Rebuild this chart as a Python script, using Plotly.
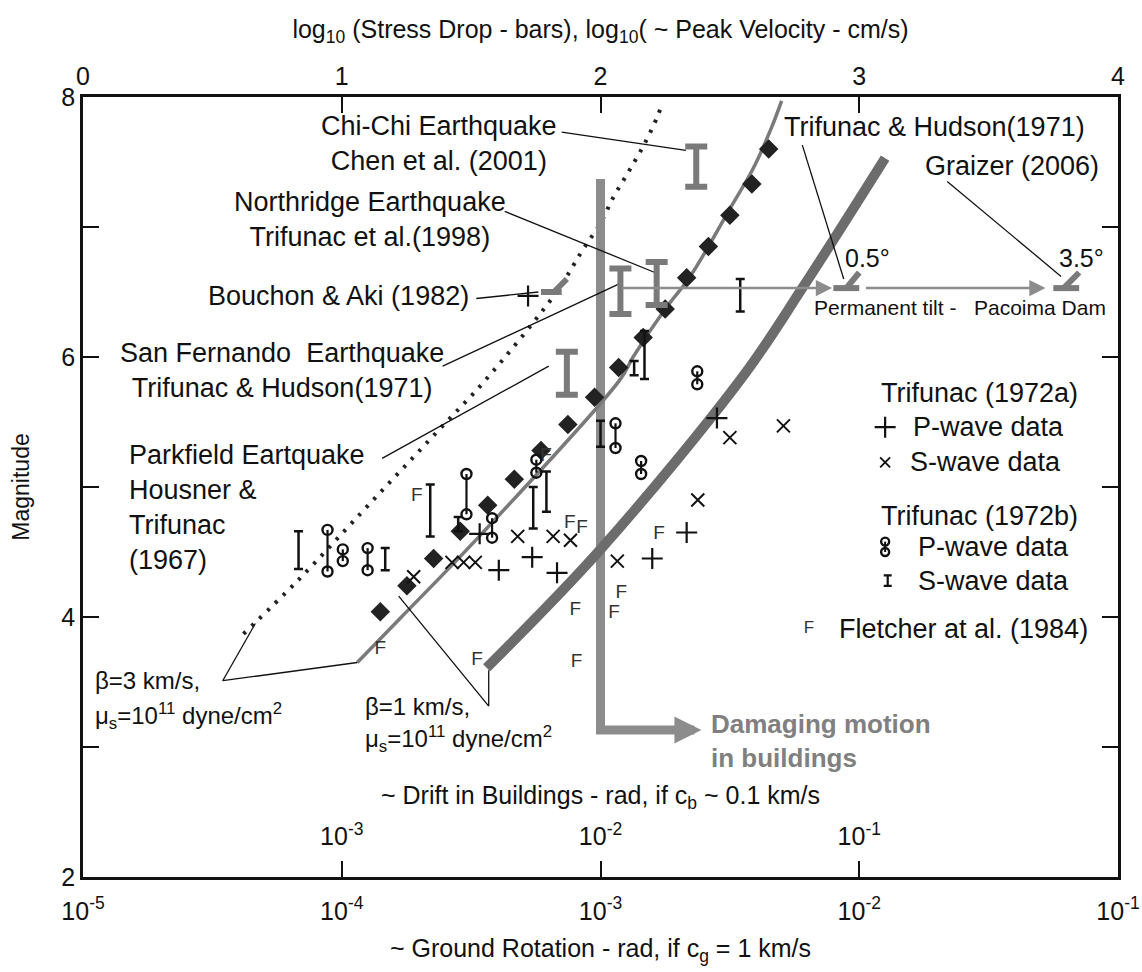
import plotly.graph_objects as go

# ---------------- data: x = log10(stress drop, bars) [top axis], y = magnitude ----------------
beta3_x = [0.62, 0.83, 1.07, 1.23, 1.39, 1.55, 1.83, 1.93, 2.00, 2.05, 2.11, 2.17, 2.22, 2.24]
beta3_y = [3.87, 4.28, 4.79, 5.13, 5.47, 5.81, 6.50, 6.82, 7.03, 7.23, 7.43, 7.64, 7.85, 7.96]

beta1_x = [1.06, 1.226, 1.536, 2.077, 2.126, 2.25, 2.34, 2.42, 2.50, 2.59, 2.66, 2.70]
beta1_y = [3.65, 3.99, 4.63, 5.83, 6.00, 6.37, 6.60, 6.86, 7.14, 7.45, 7.76, 7.97]

thick_x = [1.56, 2.00, 2.55, 2.78, 3.10]
thick_y = [3.61, 4.52, 5.85, 6.53, 7.53]

diamond_x = [1.149, 1.252, 1.355, 1.458, 1.564, 1.667, 1.77, 1.874, 1.977, 2.07, 2.165, 2.25, 2.333, 2.417, 2.50, 2.585, 2.65]
diamond_y = [4.04, 4.24, 4.45, 4.66, 4.86, 5.06, 5.28, 5.48, 5.69, 5.92, 6.15, 6.37, 6.61, 6.85, 7.09, 7.33, 7.60]

# Trifunac (1972a)
p72a_x = [1.533, 1.607, 1.736, 1.832, 2.20, 2.333, 2.45, 1.72]
p72a_y = [4.64, 4.36, 4.46, 4.34, 4.45, 4.65, 5.53, 6.47]
s72a_x = [1.278, 1.426, 1.471, 1.516, 1.68, 1.817, 1.884, 2.065, 2.376, 2.50, 2.707]
s72a_y = [4.31, 4.42, 4.42, 4.42, 4.62, 4.62, 4.59, 4.43, 4.90, 5.38, 5.47]

# Trifunac (1972b) P-wave pairs (x, lower M, upper M)
p72b_x = [0.945, 1.004, 1.10, 1.482, 1.581, 1.752, 2.058, 2.157, 2.374]
p72b_lo = [4.35, 4.43, 4.36, 4.79, 4.61, 5.11, 5.30, 5.10, 5.79]
p72b_hi = [4.67, 4.52, 4.53, 5.10, 4.76, 5.21, 5.49, 5.20, 5.89]
# Trifunac (1972b) S-wave ranges
s72b_x = [0.833, 1.168, 1.342, 1.45, 1.74, 1.791, 2.00, 2.13, 2.17, 2.54]
s72b_lo = [4.37, 4.36, 4.62, 4.66, 4.68, 4.81, 5.31, 5.86, 5.83, 6.35]
s72b_hi = [4.66, 4.53, 5.02, 4.77, 5.00, 5.12, 5.51, 5.97, 6.20, 6.60]

# Fletcher et al. (1984)
fl_x = [1.29, 1.881, 1.929, 1.79, 2.226, 1.903, 2.08, 2.052, 1.523, 1.907, 1.149]
fl_y = [4.93, 4.72, 4.68, 5.24, 4.64, 4.05, 4.18, 4.03, 3.67, 3.65, 3.75]

# earthquake ranges (gray I-bars): Parkfield, San Fernando, Northridge, Chi-Chi
eq_x = [1.87, 2.077, 2.217, 2.37]
eq_lo = [5.71, 6.33, 6.40, 7.31]
eq_hi = [6.04, 6.68, 6.73, 7.62]

# damaging-motion bracket
dmg_x = [2.0, 2.0, 2.33]
dmg_y = [7.37, 3.13, 3.13]
dmg_head = (2.39, 3.13)

# permanent tilt (Pacoima Dam) and Bouchon & Aki markers: horizontal + oblique stroke
tilt_level = 6.53
tilt_marks = [(2.90, 3.00, 2.95), (3.75, 3.85, 3.79)]
bouchon_mark = (1.77, 1.85, 1.82, 6.50)
tilt_arrows = [(2.077, 2.895), (3.02, 3.72)]

# leader lines (x list, y list)
leaders = [
    ([1.156, 1.80], [5.22, 5.93]),     # Parkfield
    ([1.39, 2.07], [5.93, 6.56]),      # San Fernando
    ([1.63, 2.21], [7.12, 6.65]),      # Northridge
    ([1.85, 2.33], [7.73, 7.59]),      # Chi-Chi
    ([1.52, 1.76], [6.45, 6.50]),      # Bouchon & Aki
    ([2.78, 2.94], [7.63, 6.60]),      # Trifunac & Hudson (tilt)
    ([3.34, 3.78], [7.35, 6.62]),      # Graizer
    ([0.54, 0.666], [3.51, 3.95]),     # beta=3 -> dotted
    ([0.54, 1.06], [3.51, 3.65]),      # beta=3 -> gray
    ([1.22, 1.568, 1.568], [4.16, 3.315, 3.59]),  # beta=1
]

rot_ticks = [1e-5, 1e-4, 1e-3, 1e-2, 1e-1]
rot_ticktext = ["10<sup>-5</sup>", "10<sup>-4</sup>", "10<sup>-3</sup>", "10<sup>-2</sup>", "10<sup>-1</sup>"]
drift_ticks = [1e-3, 1e-2, 1e-1]
drift_ticktext = ["10<sup>-3</sup>", "10<sup>-2</sup>", "10<sup>-1</sup>"]
stress_ticks = [0, 1, 2, 3, 4]
mag_ticks = [2, 3, 4, 5, 6, 7, 8]
mag_ticktext = ["2", "", "4", "", "6", "", "8"]

# ---------------- figure ----------------
SANS = "Liberation Sans, Arial, sans-serif"
NARROW = "Liberation Sans Narrow, Arial Narrow, Liberation Sans, sans-serif"
INK = "#111111"
GRAY = "#7a7a7a"
LIGHT = "#8c8c8c"

fig = go.Figure()
def add(tr):
    tr.update(xaxis="x2", yaxis="y", hoverinfo="skip", showlegend=False)
    fig.add_trace(tr)

# dotted beta=3 curve
add(go.Scatter(x=beta3_x, y=beta3_y, mode="lines",
               line=dict(color="#222", width=4, dash="3px,8px", shape="spline")))
# damaging motion bracket
add(go.Scatter(x=dmg_x, y=dmg_y, mode="lines", line=dict(color=LIGHT, width=9)))
# beta=1 gray curve
add(go.Scatter(x=beta1_x, y=beta1_y, mode="lines", line=dict(color=GRAY, width=3.5, shape="spline")))
# thick curve
add(go.Scatter(x=thick_x, y=thick_y, mode="lines", line=dict(color="#6c6c6c", width=10, shape="spline")))

# leader lines
lx, ly = [], []
for xs, ys in leaders:
    lx += xs + [None]
    ly += ys + [None]
add(go.Scatter(x=lx, y=ly, mode="lines", line=dict(color=INK, width=1.3)))

# tilt / Bouchon markers
mx, my = [], []
for a, b, c in tilt_marks:
    mx += [a, b, None, c, b, None]
    my += [tilt_level, tilt_level, None, tilt_level, tilt_level + 0.12, None]
a, b, c, lev = bouchon_mark
mx += [a, b, None, c, b + 0.02, None]
my += [lev, lev, None, lev, lev + 0.1, None]
add(go.Scatter(x=mx, y=my, mode="lines", line=dict(color=GRAY, width=6)))

# diamonds
add(go.Scatter(x=diamond_x, y=diamond_y, mode="markers",
               marker=dict(symbol="diamond", size=15, color="#222")))
# gray I-bars
add(go.Scatter(x=eq_x, y=[(l + h) / 2 for l, h in zip(eq_lo, eq_hi)], mode="markers",
               marker=dict(size=1, color="rgba(0,0,0,0)"),
               error_y=dict(type="data", array=[(h - l) / 2 for l, h in zip(eq_lo, eq_hi)],
                            symmetric=True, color=GRAY, thickness=6, width=11)))
# black S-wave I-bars (1972b)
add(go.Scatter(x=s72b_x, y=[(l + h) / 2 for l, h in zip(s72b_lo, s72b_hi)], mode="markers",
               marker=dict(size=1, color="rgba(0,0,0,0)"),
               error_y=dict(type="data", array=[(h - l) / 2 for l, h in zip(s72b_lo, s72b_hi)],
                            symmetric=True, color=INK, thickness=2.5, width=4.5)))
# P-wave pairs (1972b)
px, py = [], []
for x, l, h in zip(p72b_x, p72b_lo, p72b_hi):
    px += [x, x, None]
    py += [l, h, None]
add(go.Scatter(x=px, y=py, mode="lines+markers", line=dict(color=INK, width=2.2),
               marker=dict(symbol="circle-open", size=10, color=INK, line=dict(width=2.4))))
# 1972a
add(go.Scatter(x=p72a_x, y=p72a_y, mode="markers",
               marker=dict(symbol="cross-thin", size=15, line=dict(width=2.2, color=INK))))
add(go.Scatter(x=s72a_x, y=s72a_y, mode="markers",
               marker=dict(symbol="x-thin", size=13, line=dict(width=2, color=INK))))
# Fletcher
add(go.Scatter(x=fl_x, y=fl_y, mode="text", text=["F"] * len(fl_x),
               textfont=dict(family=SANS, size=19, color="#333")))

# legend symbols
leg_x = 3.10
add(go.Scatter(x=[leg_x], y=[5.46], mode="markers",
               marker=dict(symbol="cross-thin", size=15, line=dict(width=2.2, color=INK))))
add(go.Scatter(x=[leg_x], y=[5.19], mode="markers",
               marker=dict(symbol="x-thin", size=10, line=dict(width=1.8, color=INK))))
add(go.Scatter(x=[leg_x, leg_x], y=[4.50, 4.58], mode="lines+markers", line=dict(color=INK, width=2),
               marker=dict(symbol="circle-open", size=8, color=INK, line=dict(width=2.4))))
add(go.Scatter(x=[leg_x + 0.01], y=[4.28], mode="markers", marker=dict(size=1, color="rgba(0,0,0,0)"),
               error_y=dict(type="data", array=[0.04], symmetric=True, color=INK, thickness=2.2, width=4)))
add(go.Scatter(x=[2.806], y=[3.91], mode="text", text=["F"], textfont=dict(family=SANS, size=17, color="#333")))

# dummy traces to register base axes
fig.add_trace(go.Scatter(x=[1e-3], y=[None], xaxis="x", yaxis="y", showlegend=False, hoverinfo="skip"))
fig.add_trace(go.Scatter(x=[1e-2], y=[None], xaxis="x3", yaxis="y", showlegend=False, hoverinfo="skip"))

# ---------------- annotations ----------------
F27 = dict(family=SANS, size=27, color=INK)
texts = [
    ("Chi-Chi Earthquake<br>Chen et al. (2001)", 1.84, 7.64, "right", "center"),
    ("Northridge Earthquake<br>Trifunac et al.(1998)", 1.11, 7.06, "center", "center"),
    ("Bouchon & Aki (1982)", 1.50, 6.47, "right", "left"),
    ("San Fernando  Earthquake<br>Trifunac & Hudson(1971)", 0.77, 5.895, "center", "center"),
    ("Parkfield Eartquake<br>Housner &<br>Trifunac<br>(1967)", 0.169, 4.845, "left", "left"),
    ("Trifunac & Hudson(1971)", 3.29, 7.77, "center", "center"),
    ("Graizer (2006)", 3.59, 7.47, "center", "center"),
    ("Trifunac (1972a)", 3.077, 5.72, "left", "left"),
    ("P-wave data", 3.20, 5.46, "left", "left"),
    ("S-wave data", 3.19, 5.19, "left", "left"),
    ("Trifunac (1972b)", 3.077, 4.78, "left", "left"),
    ("P-wave data", 3.22, 4.54, "left", "left"),
    ("S-wave data", 3.22, 4.28, "left", "left"),
    ("Fletcher at al. (1984)", 2.913, 3.91, "left", "left"),
]
for t, x, y, xa, al in texts:
    fig.add_annotation(text=t, x=x, y=y, xref="x2", yref="y", xanchor=xa, yanchor="middle",
                       align=al, showarrow=False, font=F27)
for t, x in [("0.5°", 3.03), ("3.5°", 3.86)]:
    fig.add_annotation(text=t, x=x, y=6.76, xref="x2", yref="y", showarrow=False,
                       font=dict(family=SANS, size=25, color=INK))

small = [
    ("β=3 km/s,", 0.04, 3.51), ("μ<sub>s</sub>=10<sup>11</sup> dyne/cm<sup>2</sup>", 0.04, 3.24),
    ("β=1 km/s,", 1.083, 3.31), ("μ<sub>s</sub>=10<sup>11</sup> dyne/cm<sup>2</sup>", 1.083, 3.06),
]
for t, x, y in small:
    fig.add_annotation(text=t, x=x, y=y, xref="x2", yref="y", xanchor="left", yanchor="middle",
                       showarrow=False, font=dict(family=SANS, size=24, color=INK))
for t, x in [("Permanent tilt -", 3.10), ("Pacoima Dam", 3.70)]:
    fig.add_annotation(text=t, x=x, y=6.38, xref="x2", yref="y", showarrow=False,
                       font=dict(family=SANS, size=21, color=INK))
fig.add_annotation(text="<b>Damaging motion<br>in buildings</b>", x=2.42, y=3.05, xref="x2", yref="y",
                   xanchor="left", yanchor="middle", align="left", showarrow=False,
                   font=dict(family=SANS, size=26, color="#808080"))

# arrows
for x0, x1 in tilt_arrows:
    fig.add_annotation(x=x1, y=tilt_level, ax=x0, ay=tilt_level, xref="x2", yref="y",
                       axref="x2", ayref="y", text="", showarrow=True, arrowhead=2,
                       arrowsize=1.3, arrowwidth=2.5, arrowcolor=LIGHT)
fig.add_annotation(x=dmg_head[0], y=dmg_head[1], ax=dmg_x[-1] - 0.05, ay=dmg_head[1], xref="x2", yref="y",
                   axref="x2", ayref="y", text="", showarrow=True, arrowhead=2,
                   arrowsize=0.6, arrowwidth=9, arrowcolor=LIGHT)

# ---------------- layout ----------------
TICKF = dict(family=NARROW, size=25, color=INK)
TITLEF = dict(family=NARROW, size=25, color=INK)
fig.update_layout(
    width=1142, height=972, margin=dict(l=83, r=24, t=97, b=95),
    paper_bgcolor="white", plot_bgcolor="white", showlegend=False,
    xaxis=dict(type="log", range=[-5, -1], tickvals=rot_ticks, ticktext=rot_ticktext,
               ticks="inside", ticklen=16, tickwidth=1.5, tickcolor=INK, ticklabelstandoff=10,
               showline=True, linewidth=2.5, linecolor=INK, mirror="ticks",
               showgrid=False, zeroline=False, tickfont=TICKF, automargin=False,
               title=dict(text="~ Ground Rotation - rad, if c<sub>g</sub> = 1 km/s", font=TITLEF, standoff=16)),
    xaxis2=dict(overlaying="x", side="top", range=[0, 4], tickvals=stress_ticks, ticks="",
                ticklabelstandoff=6,
                showline=False, showgrid=False, zeroline=False, tickfont=TICKF, automargin=False,
                title=dict(text="log<sub>10</sub> (Stress Drop - bars), log<sub>10</sub>( ~ Peak Velocity - cm/s)",
                           font=TITLEF, standoff=16)),
    xaxis3=dict(type="log", overlaying="x", anchor="free", position=0.034, side="top", range=[-4, 0],
                tickvals=drift_ticks, ticktext=drift_ticktext, ticks="", showline=False,
                showgrid=False, zeroline=False, tickfont=TICKF, automargin=False,
                title=dict(text="~ Drift in Buildings - rad, if c<sub>b</sub> ~ 0.1 km/s", font=TITLEF, standoff=6)),
    yaxis=dict(range=[2, 8], tickvals=mag_ticks, ticktext=mag_ticktext, ticks="inside", ticklen=16,
               tickwidth=1.5, tickcolor=INK, showline=True, linewidth=2.5, linecolor=INK, mirror="ticks",
               showgrid=False, zeroline=False, tickfont=TICKF, automargin=False,
               title=dict(text="Magnitude", font=dict(family=NARROW, size=23, color=INK), standoff=26)),
)

fig.write_html("out.html")
